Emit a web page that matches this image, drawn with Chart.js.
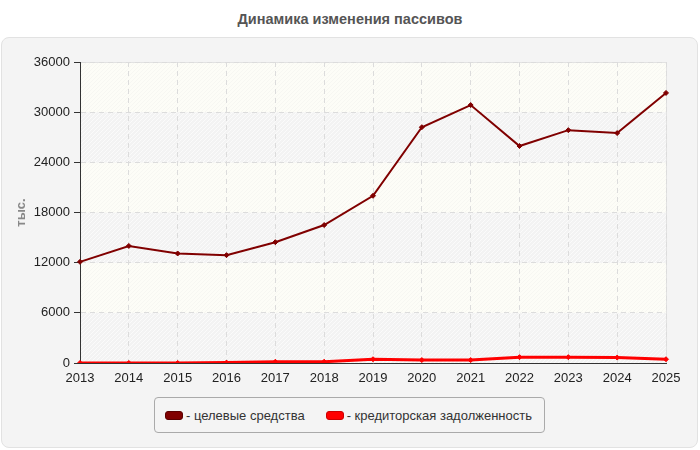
<!DOCTYPE html>
<html>
<head>
<meta charset="utf-8">
<script src="https://cdn.jsdelivr.net/npm/chart.js@4"></script>
<style>
  html, body { margin: 0; padding: 0; background: #fff; }
  body { width: 700px; height: 450px; position: relative; overflow: hidden; font-family: "Liberation Sans", Arial, sans-serif; }
  #title { position: absolute; left: 0; top: 11px; width: 700px; text-align: center; font-weight: bold; font-size: 14.5px; color: #555; }
  #panel { position: absolute; left: 1px; top: 37px; width: 695px; height: 409px; background: #f4f4f4; border: 1px solid #e2e2e2; border-radius: 8px; }
  #wrap { position: absolute; left: 1px; top: 0; width: 695px; height: 355px; }
  #legend { position: absolute; left: 152px; top: 359px; width: 379px; height: 34px; border: 1px solid #aaa; border-radius: 4px; display: flex; align-items: center; padding-left: 10px; box-sizing: content-box; font-size: 13px; color: #333; white-space: nowrap; }
  .sw { display: inline-block; width: 16px; height: 7px; border-radius: 3px; margin-right: 3px; }
  .item { display: flex; align-items: center; margin-right: 21px; }
</style>
</head>
<body>
<div id="title">Динамика изменения пассивов</div>
<div id="panel">
  <div id="wrap"><canvas id="chart" width="695" height="355"></canvas></div>
  <div id="legend"></div>
</div>
<script>
const years = ['2013', '2014', '2015', '2016', '2017', '2018', '2019', '2020', '2021', '2022', '2023', '2024', '2025']
const targetFunds = [12100, 14000, 13100, 12900, 14450, 16500, 20000, 28200, 30850, 25950, 27850, 27500, 32300]
const payables = [0, 0, 0, 50, 150, 150, 450, 350, 350, 700, 700, 650, 450]
const seriesNames = ['целевые средства', 'кредиторская задолженность']
const seriesColors = ['#800000', '#ff0000']
const seriesBorders = ['#5a0000', '#cc0000']
const lineWidths = [2, 3]

const makeHatch = (bg, line) => {
    const c = document.createElement('canvas')
    c.width = 4
    c.height = 4
    const g = c.getContext('2d')
    g.fillStyle = bg
    g.fillRect(0, 0, 4, 4)
    g.strokeStyle = line
    g.lineWidth = 1
    g.beginPath()
    g.moveTo(0, 4); g.lineTo(4, 0)
    g.moveTo(-1, 1); g.lineTo(1, -1)
    g.moveTo(3, 5); g.lineTo(5, 3)
    g.stroke()
    return c
}

// alternating hatched bands behind the plot
const bandsPlugin = {
    id: 'bands',
    beforeDraw(chart) {
        const { ctx, chartArea, scales } = chart
        const y = scales.y
        const gray = ctx.createPattern(makeHatch('#f3f3f3', '#fbfbfb'), 'repeat')
        const cream = ctx.createPattern(makeHatch('#fdfdf7', '#f7f7f2'), 'repeat')
        ctx.save()
        y.ticks.forEach((t, i) => {
            if (i === y.ticks.length - 1) return
            const y0 = y.getPixelForValue(t.value)
            const y1 = y.getPixelForValue(y.ticks[i + 1].value)
            ctx.fillStyle = i % 2 === 0 ? gray : cream
            ctx.fillRect(chartArea.left, y1, chartArea.right - chartArea.left, y0 - y1)
        })
        ctx.strokeStyle = '#e2e2e2'
        ctx.lineWidth = 1
        ctx.beginPath()
        ctx.moveTo(chartArea.left, chartArea.top + 0.5)
        ctx.lineTo(chartArea.right + 0.5, chartArea.top + 0.5)
        ctx.lineTo(chartArea.right + 0.5, chartArea.bottom)
        ctx.stroke()
        ctx.restore()
    }
}

const legend = document.getElementById('legend')
seriesNames.forEach((name, i) => {
    const item = document.createElement('span')
    item.className = 'item'
    item.innerHTML = '<span class="sw" style="background:' + seriesColors[i] + ';border:1px solid ' + seriesBorders[i] + '"></span>- ' + name
    legend.appendChild(item)
})

const dataset = (data, i) => ({
    label: seriesNames[i],
    data,
    borderColor: seriesColors[i],
    backgroundColor: seriesColors[i],
    borderWidth: lineWidths[i],
    pointStyle: 'rectRot',
    pointRadius: 2.5,
    pointBorderWidth: 1,
    tension: 0,
    fill: false
})

new Chart(document.getElementById('chart'), {
    type: 'line',
    data: {
        labels: years,
        datasets: [dataset(targetFunds, 0), dataset(payables, 1)]
    },
    options: {
        responsive: false,
        animation: false,
        layout: { padding: { left: 0, top: 24, right: 32, bottom: 0 } },
        plugins: { legend: { display: false }, tooltip: { enabled: false } },
        scales: {
            x: {
                offset: false,
                grid: { color: '#dcdcdc', tickColor: 'transparent', tickLength: 5 },
                border: { color: '#333', width: 1, dash: [5, 4] },
                ticks: { color: '#222', font: { size: 13, family: 'Liberation Sans' }, padding: 3, maxRotation: 0 },
                afterFit(s) { s.height = 30 }
            },
            y: {
                min: 0,
                max: 36000,
                ticks: { stepSize: 6000, color: '#222', font: { size: 13, family: 'Liberation Sans' }, padding: 4, callback: v => String(v) },
                grid: { color: '#dcdcdc', tickColor: '#333', tickLength: 6 },
                border: { color: '#333', width: 1, dash: [5, 4] },
                title: { display: true, text: 'тыс.', color: '#888', font: { size: 13, weight: 'bold', family: 'Liberation Sans' }, padding: { top: 11, bottom: 0 } },
                afterFit(s) { s.width = 77 }
            }
        }
    },
    plugins: [bandsPlugin]
})
</script>
</body>
</html>
